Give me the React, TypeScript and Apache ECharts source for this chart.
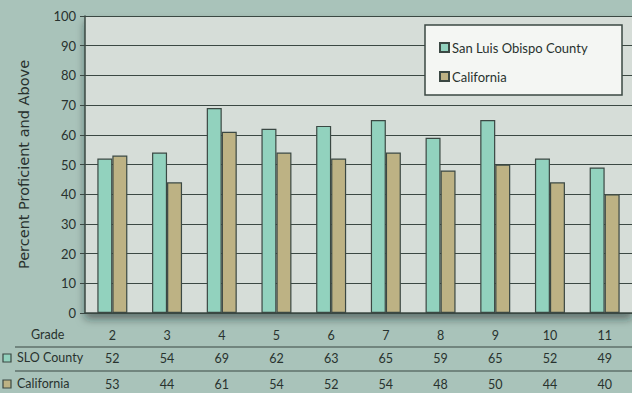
import React, { useEffect, useRef } from "react";
import * as echarts from "echarts";

const grades = ["2", "3", "4", "5", "6", "7", "8", "9", "10", "11"];
const sloValues = [52, 54, 69, 62, 63, 65, 59, 65, 52, 49];
const caValues = [53, 44, 61, 54, 52, 54, 48, 50, 44, 40];
const seriesNames = ["San Luis Obispo County", "California"];
const yTicks = { min: 0, max: 100, interval: 10 };

const BG = "#a9c3ba";
const PLOT_BG = "#d6ddd8";
const SLO_COLOR = "#92d2be";
const CA_COLOR = "#bdb284";
const LINE = "#3b4843";
const TEXT = "#28322e";
const FONT = "Lato";

export default function App() {
  const ref = useRef<HTMLDivElement>(null);
  useEffect(() => {
    document.body.style.margin = "0";
    if (!ref.current) return;
    const chart = echarts.init(ref.current, null, { renderer: "svg" });
    const labelStyle = { color: TEXT, fontFamily: FONT, fontSize: 12.5 };
    chart.setOption({
      animation: false,
      backgroundColor: BG,
      textStyle: { fontFamily: FONT },
      grid: {
        left: 85,
        top: 16,
        width: 550,
        height: 297,
        show: true,
        backgroundColor: PLOT_BG,
        borderWidth: 0,
        shadowColor: "rgba(20,30,28,0.5)",
        shadowBlur: 9,
        shadowOffsetY: 6,
      },
      legend: {
        orient: "vertical",
        left: 434,
        top: 36,
        itemWidth: 9,
        itemHeight: 9,
        itemGap: 16,
        icon: "rect",
        z: 10,
        textStyle: { color: TEXT, fontFamily: FONT, fontSize: 13, padding: [0, 0, 0, -2] },
        data: seriesNames,
      },
      xAxis: [
        {
          type: "category",
          data: grades,
          axisLine: { show: true, lineStyle: { color: LINE, width: 1.5 } },
          axisTick: { show: false },
          axisLabel: { ...labelStyle, margin: 16 },
        },
        {
          type: "category",
          data: sloValues.map(String),
          position: "bottom",
          offset: 23,
          axisLine: { show: false },
          axisTick: { show: false },
          axisLabel: { ...labelStyle, margin: 16 },
        },
        {
          type: "category",
          data: caValues.map(String),
          position: "bottom",
          offset: 49,
          axisLine: { show: false },
          axisTick: { show: false },
          axisLabel: { ...labelStyle, margin: 16 },
        },
      ],
      yAxis: {
        type: "value",
        min: yTicks.min,
        max: yTicks.max,
        interval: yTicks.interval,
        name: "Percent Proficient and Above",
        nameLocation: "middle",
        nameGap: 54,
        nameTextStyle: { color: TEXT, fontFamily: "DejaVu Sans", fontSize: 14.5 },
        axisLine: { show: true, lineStyle: { color: LINE, width: 1.5 } },
        axisTick: { show: true, length: 5, lineStyle: { color: LINE } },
        axisLabel: { ...labelStyle, fontSize: 13, margin: 9 },
        splitLine: { show: true, lineStyle: { color: LINE, width: 1.2 } },
      },
      series: [
        {
          name: seriesNames[0],
          type: "bar",
          data: sloValues,
          barWidth: 15,
          barGap: "0%",
          itemStyle: { color: SLO_COLOR, borderColor: LINE, borderWidth: 1.2 },
        },
        {
          name: seriesNames[1],
          type: "bar",
          data: caValues,
          barWidth: 15,
          itemStyle: { color: CA_COLOR, borderColor: LINE, borderWidth: 1.2 },
        },
      ],
      graphic: [
        {
          type: "rect",
          z: 5,
          shape: { x: 425, y: 25, width: 197, height: 70 },
          style: { fill: "#f4f6f3", stroke: LINE, lineWidth: 1.5 },
        },
        {
          type: "line",
          shape: { x1: 15, y1: 347, x2: 632, y2: 347 },
          style: { stroke: LINE, lineWidth: 1.2 },
        },
        {
          type: "line",
          shape: { x1: 15, y1: 371, x2: 632, y2: 371 },
          style: { stroke: LINE, lineWidth: 1.2 },
        },
        {
          type: "text",
          x: 31,
          y: 328,
          style: { text: "Grade", fill: TEXT, fontFamily: FONT, fontSize: 12.5 },
        },
        {
          type: "rect",
          shape: { x: 3, y: 354, width: 8, height: 8 },
          style: { fill: SLO_COLOR, stroke: LINE, lineWidth: 1.2 },
        },
        {
          type: "text",
          x: 17,
          y: 351,
          style: { text: "SLO County", fill: TEXT, fontFamily: FONT, fontSize: 12.5 },
        },
        {
          type: "rect",
          shape: { x: 3, y: 380, width: 8, height: 8 },
          style: { fill: CA_COLOR, stroke: LINE, lineWidth: 1.2 },
        },
        {
          type: "text",
          x: 17,
          y: 377,
          style: { text: "California", fill: TEXT, fontFamily: FONT, fontSize: 12.5 },
        },
      ],
    });
    return () => chart.dispose();
  }, []);
  return <div ref={ref} style={{ width: 632, height: 393 }} />;
}
